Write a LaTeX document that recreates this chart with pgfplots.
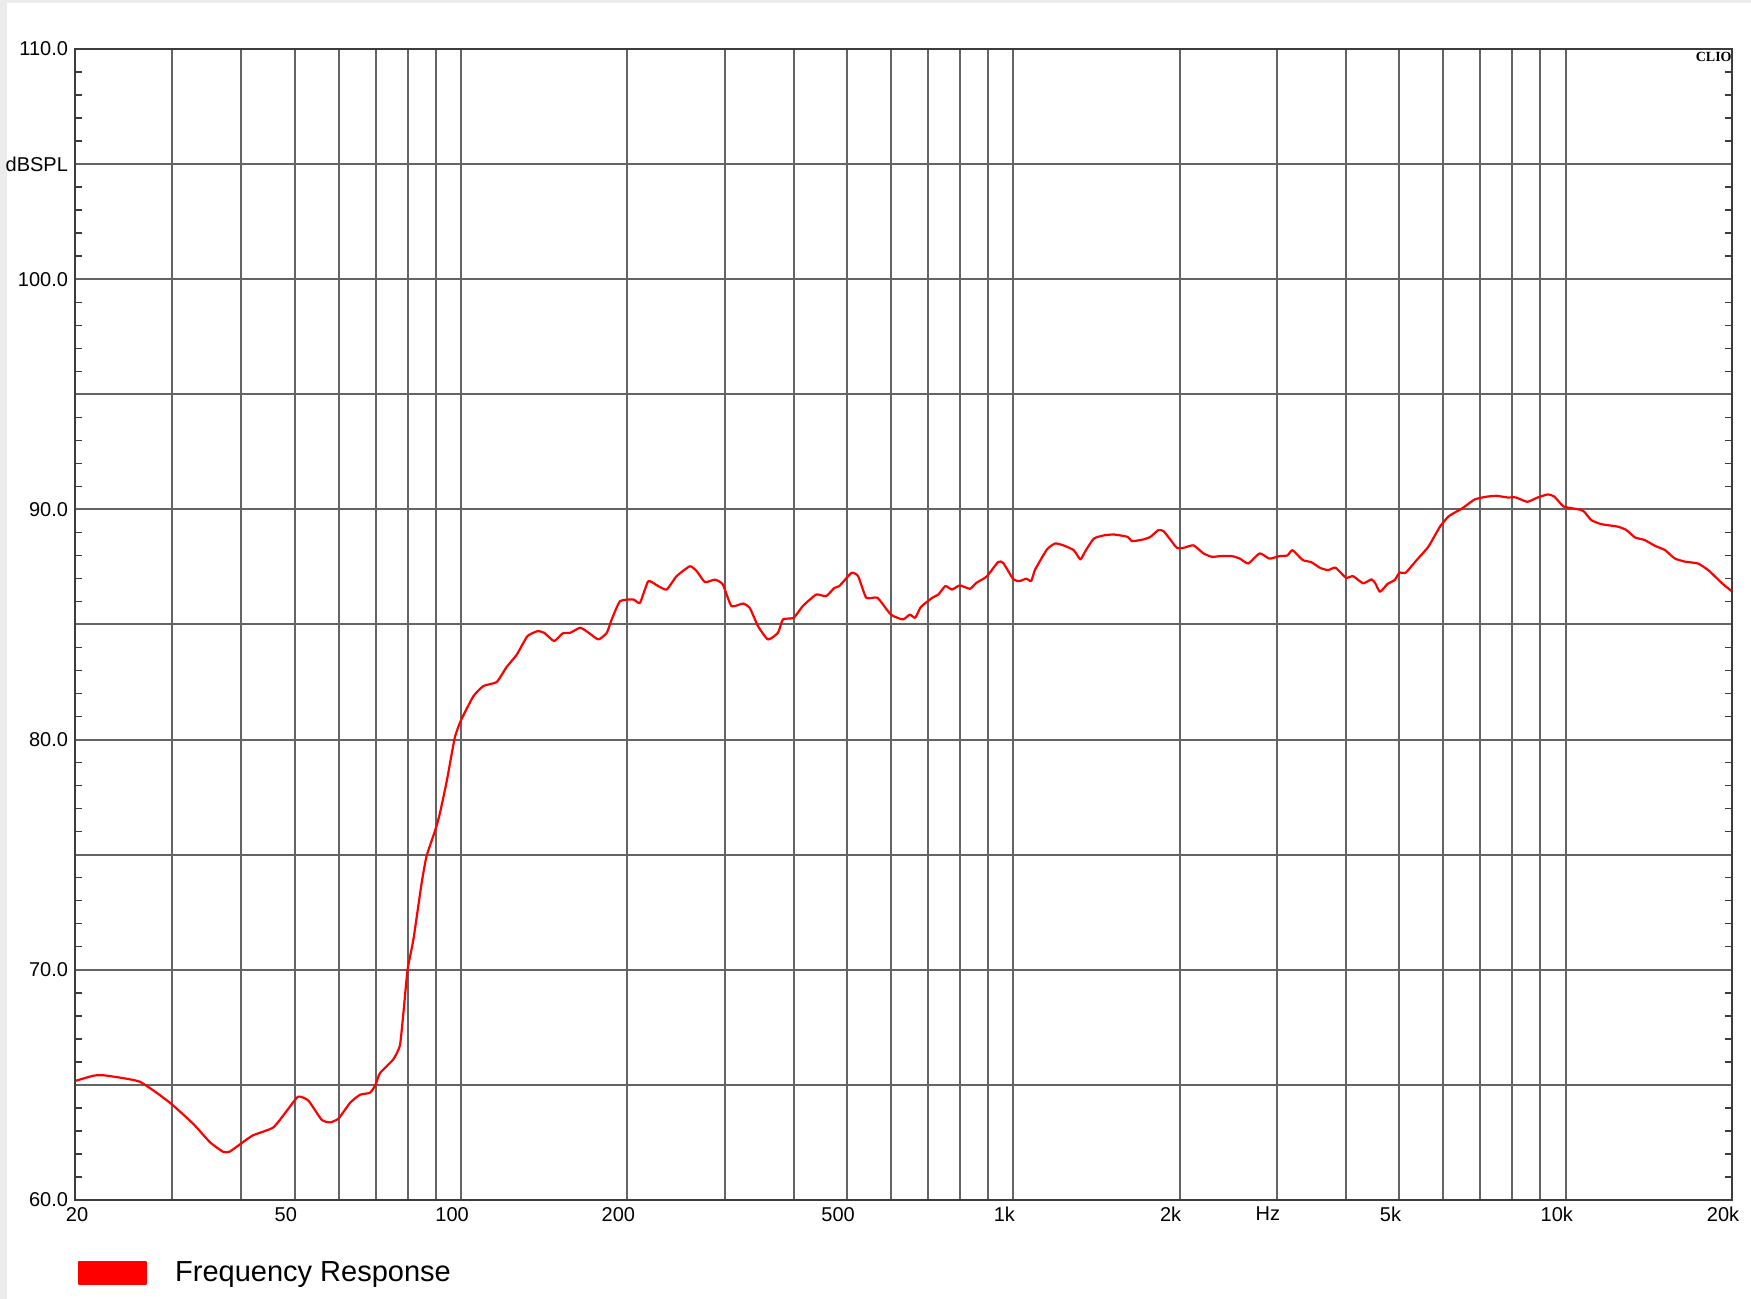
\documentclass[border=0pt]{standalone}
\usepackage{pgfplots}
\pgfplotsset{compat=1.18}
\usepackage{fontspec}
\setmainfont{Liberation Sans}
\newfontfamily\cliofont{Liberation Serif}
\definecolor{bggray}{RGB}{236,236,236}
\definecolor{gridgray}{RGB}{100,100,100}
\definecolor{axisgray}{RGB}{60,60,60}
\definecolor{curvered}{RGB}{255,0,0}

\pgfplotstableread{
f dB
20 65.17
21.6 65.4
22.5 65.42
24.5 65.29
26.2 65.14
28.1 64.66
30 64.14
32.8 63.29
35.1 62.51
37.1 62.09
38.1 62.1
40 62.46
42.0 62.81
45.7 63.15
48.4 63.89
50.7 64.49
52.9 64.32
55.9 63.49
57.9 63.37
60 63.54
63.0 64.23
65.6 64.57
68.4 64.66
70 65.0
71.3 65.51
75.4 66.11
77.5 66.71
78.6 68.08
80 70.0
82.0 71.34
84.8 73.74
86.6 74.94
90 76.14
91.6 76.83
94.2 78.2
97.4 80.08
100 80.85
105.3 81.89
109.8 82.33
116 82.5
120.8 83.14
126.2 83.7
131.8 84.49
137.5 84.71
141.4 84.64
147.4 84.28
152.6 84.61
157.6 84.64
164.4 84.86
170.2 84.64
177.3 84.35
183.6 84.64
187.4 85.22
194 86.01
205 86.09
210.8 85.94
218.2 86.88
227.4 86.67
235.6 86.52
245.6 87.10
259.6 87.53
267 87.32
276.4 86.84
288.2 86.95
297.8 86.74
308.6 85.80
323.8 85.91
333.2 85.72
344.8 84.93
359.4 84.35
374.8 84.64
382.6 85.22
400 85.29
415.6 85.80
439.4 86.30
458 86.23
474 86.59
484 86.67
509 87.24
523.4 87.10
541.4 86.16
567.4 86.16
600 85.43
631 85.22
649 85.43
664 85.29
678 85.72
688 85.87
713 86.16
732 86.31
753 86.67
774 86.52
800 86.70
834 86.55
857 86.81
894 87.08
938 87.71
958 87.68
1000 86.96
1027 86.89
1055 86.99
1077 86.89
1095 87.39
1150 88.26
1190 88.52
1231 88.44
1286 88.23
1322 87.83
1350 88.19
1398 88.73
1458 88.87
1520 88.91
1608 88.81
1641 88.62
1722 88.70
1771 88.81
1830 89.10
1869 89.06
1922 88.70
1977 88.33
2033 88.33
2118 88.44
2208 88.09
2287 87.94
2370 87.97
2487 87.97
2572 87.86
2662 87.65
2792 88.09
2908 87.86
3030 87.97
3135 88.0
3200 88.23
3340 87.80
3460 87.71
3586 87.47
3710 87.36
3830 87.47
4000 87.03
4120 87.10
4296 86.79
4450 86.96
4520 86.79
4610 86.42
4756 86.76
4900 86.93
5000 87.25
5130 87.25
5372 87.80
5640 88.38
5920 89.25
6146 89.71
6490 90.04
6840 90.43
7180 90.55
7490 90.59
7840 90.52
8120 90.52
8520 90.33
8900 90.52
9280 90.65
9540 90.55
9920 90.12
10570 90.0
10800 89.90
11120 89.54
11590 89.36
12430 89.25
12880 89.10
13350 88.78
13890 88.67
14500 88.42
15130 88.23
15750 87.87
16440 87.73
17350 87.65
18120 87.36
19190 86.79
19970 86.45
}\freqresp

\begin{document}
\begin{tikzpicture}
% page background with light grey strips at top and left
\fill[bggray] (-37.5pt,-49.5pt) rectangle (838pt,600pt);
\fill[white] (-34pt,-49.5pt) rectangle (838pt,598.5pt);
\begin{axis}[
  at={(0pt,0pt)}, anchor=south west,
  scale only axis,
  width=828.5pt, height=575.5pt,
  xmode=log, log basis x=10,
  xmin=20, xmax=20000, ymin=60, ymax=110,
  xtick={20,30,40,50,60,70,80,90,100,200,300,400,500,600,700,800,900,1000,2000,3000,4000,5000,6000,7000,8000,9000,10000,20000},
  xticklabels={{\hspace*{11pt}20},{},{},50,{},{},{},{},100,200,{},{},500,{},{},{},{},1k,2k,Hz,{},5k,{},{},{},{},10k,20k},
  ytick={60,65,70,75,80,85,90,95,100,105,110},
  yticklabels={60.0,{},70.0,{},80.0,{},90.0,{},100.0,dBSPL,110.0},
  minor y tick num=4,
  xminorticks=false,
  grid=major,
  major grid style={line width=1pt, color=gridgray},
  axis line style={line width=1.3pt, color=axisgray},
  major tick length=0pt,
  minor tick length=3.5pt,
  tick align=inside,
  ytick pos=both,
  minor tick style={line width=0.7pt, color=axisgray},
  tick label style={font=\fontsize{10}{12}\selectfont, text=black},
  xticklabel style={xshift=-4.5pt},
  legend style={draw=none, fill=none, at={(0.0018,-0.0634)}, anchor=west,
    inner sep=0pt, outer sep=0pt, font=\fontsize{14.5}{17}\selectfont,
    /tikz/every odd column/.append style={column sep=12pt}},
  legend image code/.code={\fill[curvered] (0pt,-5.5pt) rectangle (33.5pt,5.5pt);},
  clip=true,
]
\addplot[curvered, line width=1.1pt, line join=round, smooth, tension=0.3] table[x=f, y=dB] {\freqresp};
\addlegendentry{Frequency Response}
\node[anchor=north east, inner sep=0pt, font=\cliofont\bfseries\fontsize{7}{8}\selectfont] at (rel axis cs:1,1) [yshift=-1.5pt] {CLIO};
\end{axis}
\pgfresetboundingbox
\path[use as bounding box] (-37.5pt,-49.5pt) rectangle (838pt,600pt);
\end{tikzpicture}
\end{document}
